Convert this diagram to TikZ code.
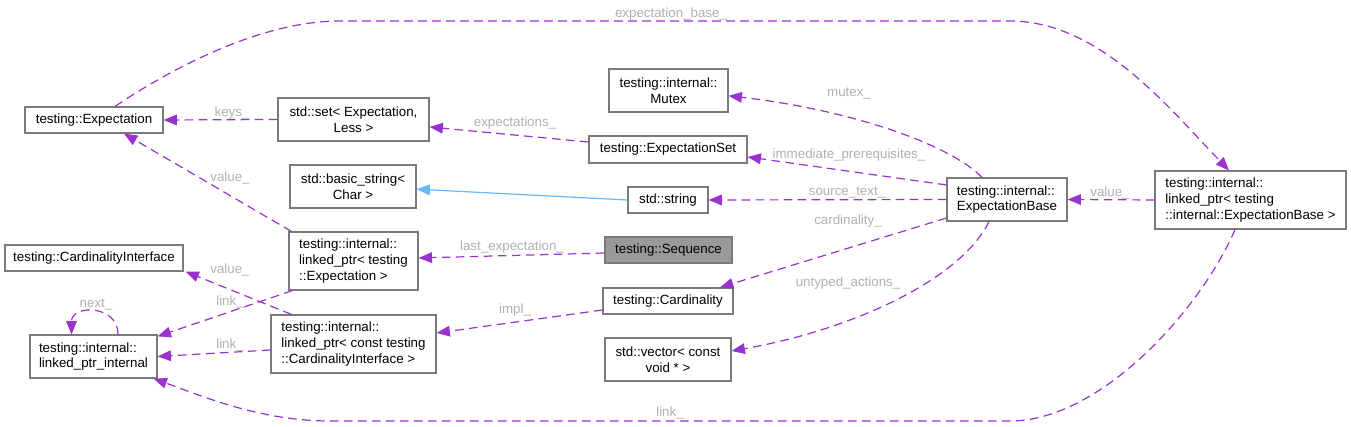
\documentclass[tikz,border=0pt]{standalone}
\usepackage{fontspec}
\setmainfont{Liberation Sans}
\usetikzlibrary{arrows.meta}
\definecolor{boxgray}{HTML}{7A7A7A}
\definecolor{memberpurple}{HTML}{9A32CD}
\definecolor{inheritblue}{HTML}{63B8FF}
\definecolor{labelgray}{HTML}{B0B0B0}
\definecolor{currentgray}{HTML}{999999}

\begin{document}
\begin{tikzpicture}[
    x=0.75pt, y=-0.75pt,
    cls/.style={draw=boxgray, line width=0.9pt, fill=white, inner sep=1pt, align=center, font=\fontsize{10}{11.8}\selectfont},
    one/.style={cls, minimum height=19.5pt},
    two/.style={cls, minimum height=32.25pt},
    three/.style={cls, align=left, minimum height=43.5pt},
    member/.style={-{Triangle[length=10pt, width=8pt]}, memberpurple, line width=0.9pt, dash pattern=on 6.5pt off 4pt},
    inherit/.style={-{Triangle[length=10pt, width=8pt]}, inheritblue, line width=0.9pt},
    lbl/.style={text=labelgray, font=\fontsize{10}{12}\selectfont, inner sep=0pt},
]
    \useasboundingbox (0,0) rectangle (1351,427);

    % Left column
    \node[one, minimum width=103.5pt] (exp) at (94,120) {testing::Expectation};
    \node[one, minimum width=133.5pt] (cif) at (94,258) {testing::CardinalityInterface};
    \node[two, align=left, minimum width=95.25pt] (lpi) at (93.5,356.5) {testing::internal::\\linked\_ptr\_internal};

    % Second column
    \node[two, minimum width=113.25pt] (set) at (353.5,119.5) {std::set< Expectation,\\Less >};
    \node[two, minimum width=94.5pt] (bstr) at (353,186.5) {std::basic\_string<\\Char >};
    \node[three, minimum width=96.75pt] (lpexp) at (353.5,261) {testing::internal::\\linked\_ptr< testing\\::Expectation >};
    \node[three, minimum width=123.75pt] (lpcif) at (353.5,344) {testing::internal::\\linked\_ptr< const testing\\::CardinalityInterface >};

    % Middle column
    \node[two, minimum width=89.25pt] (mutex) at (668.5,90.5) {testing::internal::\\Mutex};
    \node[one, minimum width=118.5pt, minimum height=20.25pt] (eset) at (668,149.5) {testing::ExpectationSet};
    \node[one, minimum width=60pt] (str) at (668,200) {std::string};
    \node[one, minimum width=95.25pt, fill=currentgray] (seq) at (668.5,250) {testing::Sequence};
    \node[one, minimum width=97.5pt] (card) at (668,301) {testing::Cardinality};
    \node[two, minimum width=94.5pt] (vec) at (668,359.5) {std::vector< const\\void * >};

    % Right column
    \node[two, align=left, minimum width=90pt] (ebase) at (1007,199.5) {testing::internal::\\ExpectationBase};
    \node[three, minimum width=143.25pt] (lpeb) at (1250.5,200) {testing::internal::\\linked\_ptr< testing\\::internal::ExpectationBase >};

    % Inheritance
    \draw[inherit] (str.west) -- ([yshift=-2pt]bstr.east);

    % Members
    \draw[member] (set.west) -- (exp.east) node[lbl] at (232,113) {keys\_};
    \draw[member] ([yshift=5.6pt]eset.west) -- ([yshift=-5.6pt]set.east) node[lbl] at (515,123) {expectations\_};
    \draw[member] ([xshift=-18.75pt]ebase.north) .. controls +(-32,-33) and +(122,14) .. ([yshift=-4pt]mutex.east) node[lbl] at (849,94) {mutex\_};
    \draw[member] ([yshift=10.9pt]ebase.west) -- ([yshift=-5.6pt]eset.east) node[lbl] at (849,155) {immediate\_prerequisites\_};
    \draw[member] (ebase.west) -- (str.east) node[lbl] at (847,193) {source\_text\_};
    \draw[member] ([yshift=-13.9pt]ebase.west) -- ([xshift=39pt]card.north) node[lbl] at (848,221) {cardinality\_};
    \draw[member] ([xshift=-13.5pt]ebase.south) .. controls +(-29,59) and +(119,-21) .. ([yshift=6.4pt]vec.east) node[lbl] at (848,283) {untyped\_actions\_};
    \draw[member] (lpeb.west) -- (ebase.east) node[lbl] at (1110,193) {value\_};
    \draw[member] ([xshift=15.75pt]exp.north) .. controls +(55,-37) and +(-80,0) .. (340,21) -- (1010,21) .. controls +(90,0) and +(-59,-61) .. ([xshift=-16.1pt]lpeb.north) node[lbl] at (671,14) {expectation\_base\_};
    \draw[member] ([xshift=2.25pt]lpexp.north west) -- ([xshift=22.5pt]exp.south) node[lbl] at (230,178) {value\_};
    \draw[member] ([yshift=-2.25pt]seq.west) -- ([yshift=2.25pt]lpexp.east) node[lbl] at (512,247) {last\_expectation\_};
    \draw[member] ([xshift=15.75pt]lpcif.north west) -- ([xshift=1.5pt]cif.south east) node[lbl] at (230,270) {value\_};
    \draw[member] ([xshift=3pt]lpexp.south west) -- ([yshift=-1.5pt]lpi.north east) node[lbl] at (230,302) {link\_};
    \draw[member] ([yshift=-4.5pt]lpcif.west) -- (lpi.east) node[lbl] at (230,345) {link\_};
    \draw[member] ([xshift=18.4pt]lpi.north) .. controls +(0,-30) and +(0,-30) .. ([xshift=-16.5pt]lpi.north) node[lbl] at (96,305) {next\_};
    \draw[member] ([xshift=-11.6pt]lpeb.south) .. controls +(-35,81) and +(90,0) .. (1010,421) -- (330,421) .. controls +(-70,0) and +(47,17) .. ([xshift=-3pt]lpi.south east) node[lbl] at (670,413) {link\_};
    \draw[member] ([yshift=-6.75pt]card.west) -- ([yshift=8.25pt]lpcif.east) node[lbl] at (515,310) {impl\_};

\end{tikzpicture}
\end{document}
